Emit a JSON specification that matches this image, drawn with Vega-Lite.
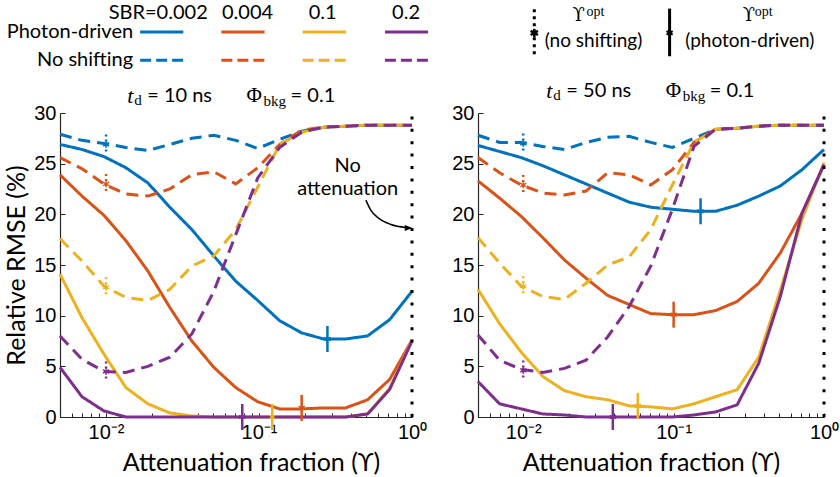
{
"$schema":"https://vega.github.io/schema/vega-lite/v6.json",
"padding":{"left":4,"top":2,"right":0,"bottom":0},
"config":{"font":"Lato","view":{"stroke":null},
"axis":{"grid":false,"domainColor":"#262626","tickColor":"#262626","labelColor":"#000","titleColor":"#000","labelFont":"Liberation Sans","labelFontSize":20,"titleFont":"Lato","titleFontSize":25,"titleFontWeight":"normal","tickSize":-5,"labelPadding":9,"labelFlush":false,"labelOverlap":false,"domainWidth":1.2}},
"datasets":{
"curves":[
{"panel":"L","sbr":"0.002","style":"Photon-driven","x":0.005,"y":26.9},{"panel":"L","sbr":"0.002","style":"Photon-driven","x":0.00696,"y":26.4},{"panel":"L","sbr":"0.002","style":"Photon-driven","x":0.00969,"y":25.7},{"panel":"L","sbr":"0.002","style":"Photon-driven","x":0.01348,"y":24.6},{"panel":"L","sbr":"0.002","style":"Photon-driven","x":0.01877,"y":23.1},{"panel":"L","sbr":"0.002","style":"Photon-driven","x":0.02613,"y":20.7},{"panel":"L","sbr":"0.002","style":"Photon-driven","x":0.03637,"y":18.5},{"panel":"L","sbr":"0.002","style":"Photon-driven","x":0.05063,"y":15.9},{"panel":"L","sbr":"0.002","style":"Photon-driven","x":0.07047,"y":13.4},{"panel":"L","sbr":"0.002","style":"Photon-driven","x":0.09809,"y":11.5},{"panel":"L","sbr":"0.002","style":"Photon-driven","x":0.13653,"y":9.5},{"panel":"L","sbr":"0.002","style":"Photon-driven","x":0.19004,"y":8.3},{"panel":"L","sbr":"0.002","style":"Photon-driven","x":0.26453,"y":7.7},{"panel":"L","sbr":"0.002","style":"Photon-driven","x":0.36821,"y":7.7},{"panel":"L","sbr":"0.002","style":"Photon-driven","x":0.51253,"y":8.0},{"panel":"L","sbr":"0.002","style":"Photon-driven","x":0.71342,"y":9.6},{"panel":"L","sbr":"0.002","style":"Photon-driven","x":1,"y":12.4},
{"panel":"L","sbr":"0.002","style":"No shifting","x":0.005,"y":27.9},{"panel":"L","sbr":"0.002","style":"No shifting","x":0.00696,"y":27.3},{"panel":"L","sbr":"0.002","style":"No shifting","x":0.00969,"y":27.0},{"panel":"L","sbr":"0.002","style":"No shifting","x":0.01348,"y":26.6},{"panel":"L","sbr":"0.002","style":"No shifting","x":0.01877,"y":26.3},{"panel":"L","sbr":"0.002","style":"No shifting","x":0.02613,"y":26.9},{"panel":"L","sbr":"0.002","style":"No shifting","x":0.03637,"y":27.5},{"panel":"L","sbr":"0.002","style":"No shifting","x":0.05063,"y":27.8},{"panel":"L","sbr":"0.002","style":"No shifting","x":0.07047,"y":27.3},{"panel":"L","sbr":"0.002","style":"No shifting","x":0.09809,"y":26.5},{"panel":"L","sbr":"0.002","style":"No shifting","x":0.13653,"y":27.4},{"panel":"L","sbr":"0.002","style":"No shifting","x":0.19004,"y":28.2},{"panel":"L","sbr":"0.002","style":"No shifting","x":0.26453,"y":28.6},{"panel":"L","sbr":"0.002","style":"No shifting","x":0.36821,"y":28.7},{"panel":"L","sbr":"0.002","style":"No shifting","x":0.51253,"y":28.8},{"panel":"L","sbr":"0.002","style":"No shifting","x":0.71342,"y":28.8},{"panel":"L","sbr":"0.002","style":"No shifting","x":1,"y":28.8},
{"panel":"L","sbr":"0.004","style":"Photon-driven","x":0.005,"y":23.9},{"panel":"L","sbr":"0.004","style":"Photon-driven","x":0.00696,"y":21.8},{"panel":"L","sbr":"0.004","style":"Photon-driven","x":0.00969,"y":19.9},{"panel":"L","sbr":"0.004","style":"Photon-driven","x":0.01348,"y":17.4},{"panel":"L","sbr":"0.004","style":"Photon-driven","x":0.01877,"y":14.4},{"panel":"L","sbr":"0.004","style":"Photon-driven","x":0.02613,"y":10.8},{"panel":"L","sbr":"0.004","style":"Photon-driven","x":0.03637,"y":7.5},{"panel":"L","sbr":"0.004","style":"Photon-driven","x":0.05063,"y":4.9},{"panel":"L","sbr":"0.004","style":"Photon-driven","x":0.07047,"y":2.9},{"panel":"L","sbr":"0.004","style":"Photon-driven","x":0.09809,"y":1.5},{"panel":"L","sbr":"0.004","style":"Photon-driven","x":0.13653,"y":0.8},{"panel":"L","sbr":"0.004","style":"Photon-driven","x":0.19004,"y":0.8},{"panel":"L","sbr":"0.004","style":"Photon-driven","x":0.26453,"y":0.9},{"panel":"L","sbr":"0.004","style":"Photon-driven","x":0.36821,"y":0.9},{"panel":"L","sbr":"0.004","style":"Photon-driven","x":0.51253,"y":1.7},{"panel":"L","sbr":"0.004","style":"Photon-driven","x":0.71342,"y":3.7},{"panel":"L","sbr":"0.004","style":"Photon-driven","x":1,"y":7.6},
{"panel":"L","sbr":"0.004","style":"No shifting","x":0.005,"y":25.6},{"panel":"L","sbr":"0.004","style":"No shifting","x":0.00696,"y":24.5},{"panel":"L","sbr":"0.004","style":"No shifting","x":0.00969,"y":23.0},{"panel":"L","sbr":"0.004","style":"No shifting","x":0.01348,"y":22.0},{"panel":"L","sbr":"0.004","style":"No shifting","x":0.01877,"y":21.8},{"panel":"L","sbr":"0.004","style":"No shifting","x":0.02613,"y":22.5},{"panel":"L","sbr":"0.004","style":"No shifting","x":0.03637,"y":23.9},{"panel":"L","sbr":"0.004","style":"No shifting","x":0.05063,"y":24.2},{"panel":"L","sbr":"0.004","style":"No shifting","x":0.07047,"y":23.0},{"panel":"L","sbr":"0.004","style":"No shifting","x":0.09809,"y":24.6},{"panel":"L","sbr":"0.004","style":"No shifting","x":0.13653,"y":26.9},{"panel":"L","sbr":"0.004","style":"No shifting","x":0.19004,"y":28.3},{"panel":"L","sbr":"0.004","style":"No shifting","x":0.26453,"y":28.6},{"panel":"L","sbr":"0.004","style":"No shifting","x":0.36821,"y":28.7},{"panel":"L","sbr":"0.004","style":"No shifting","x":0.51253,"y":28.8},{"panel":"L","sbr":"0.004","style":"No shifting","x":0.71342,"y":28.8},{"panel":"L","sbr":"0.004","style":"No shifting","x":1,"y":28.8},
{"panel":"L","sbr":"0.1","style":"Photon-driven","x":0.005,"y":14.1},{"panel":"L","sbr":"0.1","style":"Photon-driven","x":0.00696,"y":9.8},{"panel":"L","sbr":"0.1","style":"Photon-driven","x":0.00969,"y":6.2},{"panel":"L","sbr":"0.1","style":"Photon-driven","x":0.01348,"y":2.9},{"panel":"L","sbr":"0.1","style":"Photon-driven","x":0.01877,"y":1.3},{"panel":"L","sbr":"0.1","style":"Photon-driven","x":0.02613,"y":0.4},{"panel":"L","sbr":"0.1","style":"Photon-driven","x":0.03637,"y":0.1},{"panel":"L","sbr":"0.1","style":"Photon-driven","x":0.05063,"y":0},{"panel":"L","sbr":"0.1","style":"Photon-driven","x":0.07047,"y":0},{"panel":"L","sbr":"0.1","style":"Photon-driven","x":0.09809,"y":0},{"panel":"L","sbr":"0.1","style":"Photon-driven","x":0.13653,"y":0},{"panel":"L","sbr":"0.1","style":"Photon-driven","x":0.19004,"y":0},{"panel":"L","sbr":"0.1","style":"Photon-driven","x":0.26453,"y":0},{"panel":"L","sbr":"0.1","style":"Photon-driven","x":0.36821,"y":0},{"panel":"L","sbr":"0.1","style":"Photon-driven","x":0.51253,"y":0.3},{"panel":"L","sbr":"0.1","style":"Photon-driven","x":0.71342,"y":2.8},{"panel":"L","sbr":"0.1","style":"Photon-driven","x":1,"y":7.6},
{"panel":"L","sbr":"0.1","style":"No shifting","x":0.005,"y":17.6},{"panel":"L","sbr":"0.1","style":"No shifting","x":0.00696,"y":15.4},{"panel":"L","sbr":"0.1","style":"No shifting","x":0.00969,"y":12.9},{"panel":"L","sbr":"0.1","style":"No shifting","x":0.01348,"y":11.8},{"panel":"L","sbr":"0.1","style":"No shifting","x":0.01877,"y":11.5},{"panel":"L","sbr":"0.1","style":"No shifting","x":0.02613,"y":12.6},{"panel":"L","sbr":"0.1","style":"No shifting","x":0.03637,"y":14.9},{"panel":"L","sbr":"0.1","style":"No shifting","x":0.05063,"y":15.9},{"panel":"L","sbr":"0.1","style":"No shifting","x":0.07047,"y":18.5},{"panel":"L","sbr":"0.1","style":"No shifting","x":0.09809,"y":22.7},{"panel":"L","sbr":"0.1","style":"No shifting","x":0.13653,"y":26.9},{"panel":"L","sbr":"0.1","style":"No shifting","x":0.19004,"y":28.1},{"panel":"L","sbr":"0.1","style":"No shifting","x":0.26453,"y":28.6},{"panel":"L","sbr":"0.1","style":"No shifting","x":0.36821,"y":28.7},{"panel":"L","sbr":"0.1","style":"No shifting","x":0.51253,"y":28.8},{"panel":"L","sbr":"0.1","style":"No shifting","x":0.71342,"y":28.8},{"panel":"L","sbr":"0.1","style":"No shifting","x":1,"y":28.8},
{"panel":"L","sbr":"0.2","style":"Photon-driven","x":0.005,"y":4.9},{"panel":"L","sbr":"0.2","style":"Photon-driven","x":0.00696,"y":2.0},{"panel":"L","sbr":"0.2","style":"Photon-driven","x":0.00969,"y":0.6},{"panel":"L","sbr":"0.2","style":"Photon-driven","x":0.01348,"y":0},{"panel":"L","sbr":"0.2","style":"Photon-driven","x":0.01877,"y":0},{"panel":"L","sbr":"0.2","style":"Photon-driven","x":0.02613,"y":0},{"panel":"L","sbr":"0.2","style":"Photon-driven","x":0.03637,"y":0},{"panel":"L","sbr":"0.2","style":"Photon-driven","x":0.05063,"y":0},{"panel":"L","sbr":"0.2","style":"Photon-driven","x":0.07047,"y":0},{"panel":"L","sbr":"0.2","style":"Photon-driven","x":0.09809,"y":0},{"panel":"L","sbr":"0.2","style":"Photon-driven","x":0.13653,"y":0},{"panel":"L","sbr":"0.2","style":"Photon-driven","x":0.19004,"y":0},{"panel":"L","sbr":"0.2","style":"Photon-driven","x":0.26453,"y":0},{"panel":"L","sbr":"0.2","style":"Photon-driven","x":0.36821,"y":0},{"panel":"L","sbr":"0.2","style":"Photon-driven","x":0.51253,"y":0.3},{"panel":"L","sbr":"0.2","style":"Photon-driven","x":0.71342,"y":2.7},{"panel":"L","sbr":"0.2","style":"Photon-driven","x":1,"y":7.5},
{"panel":"L","sbr":"0.2","style":"No shifting","x":0.005,"y":8.0},{"panel":"L","sbr":"0.2","style":"No shifting","x":0.00696,"y":5.7},{"panel":"L","sbr":"0.2","style":"No shifting","x":0.00969,"y":4.5},{"panel":"L","sbr":"0.2","style":"No shifting","x":0.01348,"y":4.4},{"panel":"L","sbr":"0.2","style":"No shifting","x":0.01877,"y":5.0},{"panel":"L","sbr":"0.2","style":"No shifting","x":0.02613,"y":5.9},{"panel":"L","sbr":"0.2","style":"No shifting","x":0.03637,"y":8.2},{"panel":"L","sbr":"0.2","style":"No shifting","x":0.05063,"y":12.4},{"panel":"L","sbr":"0.2","style":"No shifting","x":0.07047,"y":18.0},{"panel":"L","sbr":"0.2","style":"No shifting","x":0.09809,"y":23.6},{"panel":"L","sbr":"0.2","style":"No shifting","x":0.13653,"y":26.6},{"panel":"L","sbr":"0.2","style":"No shifting","x":0.19004,"y":28.1},{"panel":"L","sbr":"0.2","style":"No shifting","x":0.26453,"y":28.6},{"panel":"L","sbr":"0.2","style":"No shifting","x":0.36821,"y":28.7},{"panel":"L","sbr":"0.2","style":"No shifting","x":0.51253,"y":28.8},{"panel":"L","sbr":"0.2","style":"No shifting","x":0.71342,"y":28.8},{"panel":"L","sbr":"0.2","style":"No shifting","x":1,"y":28.8},
{"panel":"R","sbr":"0.002","style":"Photon-driven","x":0.005,"y":26.8},{"panel":"R","sbr":"0.002","style":"Photon-driven","x":0.00696,"y":26.2},{"panel":"R","sbr":"0.002","style":"Photon-driven","x":0.00969,"y":25.6},{"panel":"R","sbr":"0.002","style":"Photon-driven","x":0.01348,"y":24.8},{"panel":"R","sbr":"0.002","style":"Photon-driven","x":0.01877,"y":23.9},{"panel":"R","sbr":"0.002","style":"Photon-driven","x":0.02613,"y":23.0},{"panel":"R","sbr":"0.002","style":"Photon-driven","x":0.03637,"y":22.1},{"panel":"R","sbr":"0.002","style":"Photon-driven","x":0.05063,"y":21.2},{"panel":"R","sbr":"0.002","style":"Photon-driven","x":0.07047,"y":20.7},{"panel":"R","sbr":"0.002","style":"Photon-driven","x":0.09809,"y":20.5},{"panel":"R","sbr":"0.002","style":"Photon-driven","x":0.13653,"y":20.3},{"panel":"R","sbr":"0.002","style":"Photon-driven","x":0.19004,"y":20.3},{"panel":"R","sbr":"0.002","style":"Photon-driven","x":0.26453,"y":20.9},{"panel":"R","sbr":"0.002","style":"Photon-driven","x":0.36821,"y":21.8},{"panel":"R","sbr":"0.002","style":"Photon-driven","x":0.51253,"y":22.8},{"panel":"R","sbr":"0.002","style":"Photon-driven","x":0.71342,"y":24.4},{"panel":"R","sbr":"0.002","style":"Photon-driven","x":1,"y":26.4},
{"panel":"R","sbr":"0.002","style":"No shifting","x":0.005,"y":27.8},{"panel":"R","sbr":"0.002","style":"No shifting","x":0.00696,"y":27.1},{"panel":"R","sbr":"0.002","style":"No shifting","x":0.00969,"y":27.1},{"panel":"R","sbr":"0.002","style":"No shifting","x":0.01348,"y":26.7},{"panel":"R","sbr":"0.002","style":"No shifting","x":0.01877,"y":26.4},{"panel":"R","sbr":"0.002","style":"No shifting","x":0.02613,"y":27.1},{"panel":"R","sbr":"0.002","style":"No shifting","x":0.03637,"y":27.6},{"panel":"R","sbr":"0.002","style":"No shifting","x":0.05063,"y":27.7},{"panel":"R","sbr":"0.002","style":"No shifting","x":0.07047,"y":27.1},{"panel":"R","sbr":"0.002","style":"No shifting","x":0.09809,"y":26.6},{"panel":"R","sbr":"0.002","style":"No shifting","x":0.13653,"y":27.5},{"panel":"R","sbr":"0.002","style":"No shifting","x":0.19004,"y":28.4},{"panel":"R","sbr":"0.002","style":"No shifting","x":0.26453,"y":28.5},{"panel":"R","sbr":"0.002","style":"No shifting","x":0.36821,"y":28.7},{"panel":"R","sbr":"0.002","style":"No shifting","x":0.51253,"y":28.8},{"panel":"R","sbr":"0.002","style":"No shifting","x":0.71342,"y":28.8},{"panel":"R","sbr":"0.002","style":"No shifting","x":1,"y":28.8},
{"panel":"R","sbr":"0.004","style":"Photon-driven","x":0.005,"y":23.3},{"panel":"R","sbr":"0.004","style":"Photon-driven","x":0.00696,"y":21.6},{"panel":"R","sbr":"0.004","style":"Photon-driven","x":0.00969,"y":19.8},{"panel":"R","sbr":"0.004","style":"Photon-driven","x":0.01348,"y":17.7},{"panel":"R","sbr":"0.004","style":"Photon-driven","x":0.01877,"y":15.5},{"panel":"R","sbr":"0.004","style":"Photon-driven","x":0.02613,"y":13.7},{"panel":"R","sbr":"0.004","style":"Photon-driven","x":0.03637,"y":12.0},{"panel":"R","sbr":"0.004","style":"Photon-driven","x":0.05063,"y":11.1},{"panel":"R","sbr":"0.004","style":"Photon-driven","x":0.07047,"y":10.2},{"panel":"R","sbr":"0.004","style":"Photon-driven","x":0.09809,"y":10.1},{"panel":"R","sbr":"0.004","style":"Photon-driven","x":0.13653,"y":10.1},{"panel":"R","sbr":"0.004","style":"Photon-driven","x":0.19004,"y":10.5},{"panel":"R","sbr":"0.004","style":"Photon-driven","x":0.26453,"y":11.4},{"panel":"R","sbr":"0.004","style":"Photon-driven","x":0.36821,"y":13.2},{"panel":"R","sbr":"0.004","style":"Photon-driven","x":0.51253,"y":16.2},{"panel":"R","sbr":"0.004","style":"Photon-driven","x":0.71342,"y":20.1},{"panel":"R","sbr":"0.004","style":"Photon-driven","x":1,"y":24.9},
{"panel":"R","sbr":"0.004","style":"No shifting","x":0.005,"y":25.6},{"panel":"R","sbr":"0.004","style":"No shifting","x":0.00696,"y":24.1},{"panel":"R","sbr":"0.004","style":"No shifting","x":0.00969,"y":22.9},{"panel":"R","sbr":"0.004","style":"No shifting","x":0.01348,"y":22.1},{"panel":"R","sbr":"0.004","style":"No shifting","x":0.01877,"y":21.9},{"panel":"R","sbr":"0.004","style":"No shifting","x":0.02613,"y":22.3},{"panel":"R","sbr":"0.004","style":"No shifting","x":0.03637,"y":24.1},{"panel":"R","sbr":"0.004","style":"No shifting","x":0.05063,"y":23.9},{"panel":"R","sbr":"0.004","style":"No shifting","x":0.07047,"y":22.9},{"panel":"R","sbr":"0.004","style":"No shifting","x":0.09809,"y":24.4},{"panel":"R","sbr":"0.004","style":"No shifting","x":0.13653,"y":27.1},{"panel":"R","sbr":"0.004","style":"No shifting","x":0.19004,"y":28.4},{"panel":"R","sbr":"0.004","style":"No shifting","x":0.26453,"y":28.5},{"panel":"R","sbr":"0.004","style":"No shifting","x":0.36821,"y":28.7},{"panel":"R","sbr":"0.004","style":"No shifting","x":0.51253,"y":28.8},{"panel":"R","sbr":"0.004","style":"No shifting","x":0.71342,"y":28.8},{"panel":"R","sbr":"0.004","style":"No shifting","x":1,"y":28.8},
{"panel":"R","sbr":"0.1","style":"Photon-driven","x":0.005,"y":12.6},{"panel":"R","sbr":"0.1","style":"Photon-driven","x":0.00696,"y":9.2},{"panel":"R","sbr":"0.1","style":"Photon-driven","x":0.00969,"y":6.4},{"panel":"R","sbr":"0.1","style":"Photon-driven","x":0.01348,"y":4.0},{"panel":"R","sbr":"0.1","style":"Photon-driven","x":0.01877,"y":2.6},{"panel":"R","sbr":"0.1","style":"Photon-driven","x":0.02613,"y":2.0},{"panel":"R","sbr":"0.1","style":"Photon-driven","x":0.03637,"y":1.7},{"panel":"R","sbr":"0.1","style":"Photon-driven","x":0.05063,"y":1.1},{"panel":"R","sbr":"0.1","style":"Photon-driven","x":0.07047,"y":1.0},{"panel":"R","sbr":"0.1","style":"Photon-driven","x":0.09809,"y":0.8},{"panel":"R","sbr":"0.1","style":"Photon-driven","x":0.13653,"y":1.3},{"panel":"R","sbr":"0.1","style":"Photon-driven","x":0.19004,"y":2.0},{"panel":"R","sbr":"0.1","style":"Photon-driven","x":0.26453,"y":2.7},{"panel":"R","sbr":"0.1","style":"Photon-driven","x":0.36821,"y":5.9},{"panel":"R","sbr":"0.1","style":"Photon-driven","x":0.51253,"y":12.5},{"panel":"R","sbr":"0.1","style":"Photon-driven","x":0.71342,"y":19.5},{"panel":"R","sbr":"0.1","style":"Photon-driven","x":1,"y":25.1},
{"panel":"R","sbr":"0.1","style":"No shifting","x":0.005,"y":17.7},{"panel":"R","sbr":"0.1","style":"No shifting","x":0.00696,"y":15.2},{"panel":"R","sbr":"0.1","style":"No shifting","x":0.00969,"y":12.9},{"panel":"R","sbr":"0.1","style":"No shifting","x":0.01348,"y":11.9},{"panel":"R","sbr":"0.1","style":"No shifting","x":0.01877,"y":11.6},{"panel":"R","sbr":"0.1","style":"No shifting","x":0.02613,"y":13.2},{"panel":"R","sbr":"0.1","style":"No shifting","x":0.03637,"y":15.0},{"panel":"R","sbr":"0.1","style":"No shifting","x":0.05063,"y":15.8},{"panel":"R","sbr":"0.1","style":"No shifting","x":0.07047,"y":18.5},{"panel":"R","sbr":"0.1","style":"No shifting","x":0.09809,"y":22.9},{"panel":"R","sbr":"0.1","style":"No shifting","x":0.13653,"y":27.1},{"panel":"R","sbr":"0.1","style":"No shifting","x":0.19004,"y":28.4},{"panel":"R","sbr":"0.1","style":"No shifting","x":0.26453,"y":28.5},{"panel":"R","sbr":"0.1","style":"No shifting","x":0.36821,"y":28.7},{"panel":"R","sbr":"0.1","style":"No shifting","x":0.51253,"y":28.8},{"panel":"R","sbr":"0.1","style":"No shifting","x":0.71342,"y":28.8},{"panel":"R","sbr":"0.1","style":"No shifting","x":1,"y":28.8},
{"panel":"R","sbr":"0.2","style":"Photon-driven","x":0.005,"y":3.5},{"panel":"R","sbr":"0.2","style":"Photon-driven","x":0.00696,"y":1.3},{"panel":"R","sbr":"0.2","style":"Photon-driven","x":0.00969,"y":0.8},{"panel":"R","sbr":"0.2","style":"Photon-driven","x":0.01348,"y":0.3},{"panel":"R","sbr":"0.2","style":"Photon-driven","x":0.01877,"y":0.2},{"panel":"R","sbr":"0.2","style":"Photon-driven","x":0.02613,"y":0},{"panel":"R","sbr":"0.2","style":"Photon-driven","x":0.03637,"y":0},{"panel":"R","sbr":"0.2","style":"Photon-driven","x":0.05063,"y":0},{"panel":"R","sbr":"0.2","style":"Photon-driven","x":0.07047,"y":0},{"panel":"R","sbr":"0.2","style":"Photon-driven","x":0.09809,"y":0},{"panel":"R","sbr":"0.2","style":"Photon-driven","x":0.13653,"y":0.2},{"panel":"R","sbr":"0.2","style":"Photon-driven","x":0.19004,"y":0.5},{"panel":"R","sbr":"0.2","style":"Photon-driven","x":0.26453,"y":1.2},{"panel":"R","sbr":"0.2","style":"Photon-driven","x":0.36821,"y":5.3},{"panel":"R","sbr":"0.2","style":"Photon-driven","x":0.51253,"y":11.9},{"panel":"R","sbr":"0.2","style":"Photon-driven","x":0.71342,"y":20.1},{"panel":"R","sbr":"0.2","style":"Photon-driven","x":1,"y":24.9},
{"panel":"R","sbr":"0.2","style":"No shifting","x":0.005,"y":8.1},{"panel":"R","sbr":"0.2","style":"No shifting","x":0.00696,"y":5.6},{"panel":"R","sbr":"0.2","style":"No shifting","x":0.00969,"y":4.7},{"panel":"R","sbr":"0.2","style":"No shifting","x":0.01348,"y":4.4},{"panel":"R","sbr":"0.2","style":"No shifting","x":0.01877,"y":4.8},{"panel":"R","sbr":"0.2","style":"No shifting","x":0.02613,"y":5.6},{"panel":"R","sbr":"0.2","style":"No shifting","x":0.03637,"y":7.9},{"panel":"R","sbr":"0.2","style":"No shifting","x":0.05063,"y":10.9},{"panel":"R","sbr":"0.2","style":"No shifting","x":0.07047,"y":14.9},{"panel":"R","sbr":"0.2","style":"No shifting","x":0.09809,"y":20.5},{"panel":"R","sbr":"0.2","style":"No shifting","x":0.13653,"y":26.7},{"panel":"R","sbr":"0.2","style":"No shifting","x":0.19004,"y":28.4},{"panel":"R","sbr":"0.2","style":"No shifting","x":0.26453,"y":28.5},{"panel":"R","sbr":"0.2","style":"No shifting","x":0.36821,"y":28.7},{"panel":"R","sbr":"0.2","style":"No shifting","x":0.51253,"y":28.8},{"panel":"R","sbr":"0.2","style":"No shifting","x":0.71342,"y":28.8},{"panel":"R","sbr":"0.2","style":"No shifting","x":1,"y":28.8}
],
"markers":[
{"panel":"L","sbr":"0.002","style":"Photon-driven","x":0.28,"y":7.7},{"panel":"L","sbr":"0.004","style":"Photon-driven","x":0.19,"y":0.9},{"panel":"L","sbr":"0.1","style":"Photon-driven","x":0.122,"y":0},{"panel":"L","sbr":"0.2","style":"Photon-driven","x":0.0777,"y":0},
{"panel":"L","sbr":"0.002","style":"No shifting","x":0.01,"y":26.9},{"panel":"L","sbr":"0.004","style":"No shifting","x":0.01,"y":23.0},{"panel":"L","sbr":"0.1","style":"No shifting","x":0.01,"y":12.8},{"panel":"L","sbr":"0.2","style":"No shifting","x":0.01,"y":4.5},
{"panel":"R","sbr":"0.002","style":"Photon-driven","x":0.151,"y":20.3},{"panel":"R","sbr":"0.004","style":"Photon-driven","x":0.1,"y":10.1},{"panel":"R","sbr":"0.1","style":"Photon-driven","x":0.0578,"y":1.1},{"panel":"R","sbr":"0.2","style":"Photon-driven","x":0.0394,"y":0},
{"panel":"R","sbr":"0.002","style":"No shifting","x":0.01,"y":27.0},{"panel":"R","sbr":"0.004","style":"No shifting","x":0.01,"y":22.9},{"panel":"R","sbr":"0.1","style":"No shifting","x":0.01,"y":12.9},{"panel":"R","sbr":"0.2","style":"No shifting","x":0.01,"y":4.6}
]},
"spacing":66,
"bounds":"flush",
"hconcat":[
{"width":352,"height":304,
"layer":[
{"data":{"name":"curves"},"transform":[{"filter":"datum.panel == 'L'"}],
"mark":{"type":"line","strokeWidth":3},
"encoding":{
"x":{"field":"x","type":"quantitative","scale":{"type":"log","domain":[0.005,1],"nice":false},"axis":{"title":"Attenuation fraction (ϒ)","titleX":191,"titlePadding":8,"values":[0.005,0.006,0.007,0.008,0.009,0.01,0.02,0.03,0.04,0.05,0.06,0.07,0.08,0.09,0.1,0.2,0.3,0.4,0.5,0.6,0.7,0.8,0.9,1],"labelExpr":"datum.value == 0.01 ? '10⁻²' : datum.value == 0.1 ? '10⁻¹' : datum.value == 1 ? '10⁰' : ''","tickSize":-4}},
"y":{"field":"y","type":"quantitative","scale":{"domain":[0,30],"nice":false},"axis":{"title":"Relative RMSE (%)","values":[0,5,10,15,20,25,30],"titlePadding":4}},
"color":{"field":"sbr","type":"nominal","scale":{"domain":["0.002","0.004","0.1","0.2"],"range":["#0072BD","#D95319","#EDB120","#7E2F8E"]},"legend":null},
"strokeDash":{"field":"style","type":"nominal","scale":{"domain":["Photon-driven","No shifting"],"range":[[1,0],[12,7]]},"legend":null}}},
{"data":{"name":"markers"},"transform":[{"filter":"datum.panel == 'L' && datum.style == 'Photon-driven'"}],
"mark":{"type":"rule","strokeWidth":2.5,"yOffset":-13,"y2Offset":13},
"encoding":{"x":{"field":"x","type":"quantitative"},"y":{"field":"y","type":"quantitative"},"y2":{"field":"y"},"color":{"field":"sbr","type":"nominal","legend":null}}},
{"data":{"name":"markers"},"transform":[{"filter":"datum.panel == 'L' && datum.style == 'No shifting'"}],
"mark":{"type":"rule","strokeWidth":2.5,"strokeDash":[2,3],"yOffset":-10,"y2Offset":10},
"encoding":{"x":{"field":"x","type":"quantitative"},"y":{"field":"y","type":"quantitative"},"y2":{"field":"y"},"color":{"field":"sbr","type":"nominal","legend":null}}},
{"data":{"name":"markers"},"transform":[{"filter":"datum.panel == 'L'"}],
"mark":{"type":"point","shape":"M0,-1L0,1M-0.87,-0.5L0.87,0.5M-0.87,0.5L0.87,-0.5","filled":false,"size":50,"strokeWidth":1.3,"opacity":1},
"encoding":{"x":{"field":"x","type":"quantitative"},"y":{"field":"y","type":"quantitative"},"color":{"field":"sbr","type":"nominal","legend":null}}},
{"data":{"values":[{}]},"mark":{"type":"rule","color":"#000","strokeWidth":3,"strokeDash":[3,9.4]},"encoding":{"x":{"datum":1},"y":{"datum":0},"y2":{"datum":30}}},
{"data":{"values":[{}]},"mark":{"type":"text","text":"No","fontSize":20,"align":"center","baseline":"middle"},"encoding":{"x":{"datum":0.38},"y":{"datum":24.8}}},
{"data":{"values":[{}]},"mark":{"type":"text","text":"attenuation","fontSize":20,"align":"center","baseline":"middle"},"encoding":{"x":{"datum":0.38},"y":{"datum":22.5}}},
{"data":{"values":[{"x":0.4994,"y":21.4},{"x":0.5385,"y":20.4},{"x":0.6075,"y":19.6},{"x":0.7282,"y":19.0},{"x":0.9135,"y":18.7}]},"mark":{"type":"line","color":"#000","strokeWidth":1.5,"interpolate":"monotone"},"encoding":{"x":{"field":"x","type":"quantitative"},"y":{"field":"y","type":"quantitative"}}},
{"data":{"values":[{}]},"mark":{"type":"point","shape":"M-1,-0.8L1,0L-1,0.8Z","filled":true,"color":"#000","size":60,"opacity":1},"encoding":{"x":{"datum":0.95},"y":{"datum":18.65}}},
{"data":{"values":[{}]},"mark":{"type":"text","text":"t","font":"Liberation Serif","fontStyle":"italic","fontSize":22,"align":"left","baseline":"middle"},"encoding":{"x":{"datum":0.01374},"y":{"datum":31.7}}},
{"data":{"values":[{}]},"mark":{"type":"text","text":"d","font":"Liberation Serif","fontSize":15,"align":"left","baseline":"middle"},"encoding":{"x":{"datum":0.01526},"y":{"datum":31.3}}},
{"data":{"values":[{}]},"mark":{"type":"text","text":"= 10 ns","fontSize":20,"align":"left","baseline":"middle"},"encoding":{"x":{"datum":0.01857},"y":{"datum":31.7}}},
{"data":{"values":[{}]},"mark":{"type":"text","text":"Φ","font":"Liberation Serif","fontSize":21,"align":"left","baseline":"middle"},"encoding":{"x":{"datum":0.0828},"y":{"datum":31.7}}},
{"data":{"values":[{}]},"mark":{"type":"text","text":"bkg","font":"Liberation Serif","fontSize":15,"align":"left","baseline":"middle"},"encoding":{"x":{"datum":0.107},"y":{"datum":31.2}}},
{"data":{"values":[{}]},"mark":{"type":"text","text":"= 0.1","fontSize":20,"align":"left","baseline":"middle"},"encoding":{"x":{"datum":0.1609},"y":{"datum":31.7}}},
{"data":{"values":[{}]},"mark":{"type":"text","text":"Photon-driven","fontSize":20,"align":"right","baseline":"middle"},"encoding":{"x":{"datum":0.01503},"y":{"datum":38.0}}},
{"data":{"values":[{}]},"mark":{"type":"text","text":"No shifting","fontSize":20,"align":"right","baseline":"middle"},"encoding":{"x":{"datum":0.01503},"y":{"datum":35.2}}},
{"data":{"values":[{}]},"mark":{"type":"text","text":"SBR=0.002","fontSize":20,"align":"center","baseline":"middle"},"encoding":{"x":{"datum":0.02193},"y":{"datum":39.9}}},
{"data":{"values":[{}]},"mark":{"type":"text","text":"0.004","fontSize":20,"align":"center","baseline":"middle"},"encoding":{"x":{"datum":0.0841},"y":{"datum":39.9}}},
{"data":{"values":[{}]},"mark":{"type":"text","text":"0.1","fontSize":20,"align":"center","baseline":"middle"},"encoding":{"x":{"datum":0.2606},"y":{"datum":39.9}}},
{"data":{"values":[{}]},"mark":{"type":"text","text":"0.2","fontSize":20,"align":"center","baseline":"middle"},"encoding":{"x":{"datum":0.914},"y":{"datum":39.9}}},
{"data":{"values":[{}]},"mark":{"type":"rule","color":"#0072BD","strokeWidth":3},"encoding":{"x":{"datum":0.0167},"x2":{"datum":0.032},"y":{"datum":38.0}}},
{"data":{"values":[{}]},"mark":{"type":"rule","color":"#D95319","strokeWidth":3},"encoding":{"x":{"datum":0.0567},"x2":{"datum":0.1087},"y":{"datum":38.0}}},
{"data":{"values":[{}]},"mark":{"type":"rule","color":"#EDB120","strokeWidth":3},"encoding":{"x":{"datum":0.1928},"x2":{"datum":0.3698},"y":{"datum":38.0}}},
{"data":{"values":[{}]},"mark":{"type":"rule","color":"#7E2F8E","strokeWidth":3},"encoding":{"x":{"datum":0.6653},"x2":{"datum":1.273},"y":{"datum":38.0}}},
{"data":{"values":[{}]},"mark":{"type":"rule","color":"#0072BD","strokeWidth":3,"strokeDash":[11,5]},"encoding":{"x":{"datum":0.0167},"x2":{"datum":0.032},"y":{"datum":35.2}}},
{"data":{"values":[{}]},"mark":{"type":"rule","color":"#D95319","strokeWidth":3,"strokeDash":[11,5]},"encoding":{"x":{"datum":0.0567},"x2":{"datum":0.1087},"y":{"datum":35.2}}},
{"data":{"values":[{}]},"mark":{"type":"rule","color":"#EDB120","strokeWidth":3,"strokeDash":[11,5]},"encoding":{"x":{"datum":0.1928},"x2":{"datum":0.3698},"y":{"datum":35.2}}},
{"data":{"values":[{}]},"mark":{"type":"rule","color":"#7E2F8E","strokeWidth":3,"strokeDash":[11,5]},"encoding":{"x":{"datum":0.6653},"x2":{"datum":1.273},"y":{"datum":35.2}}}
]},
{"width":346,"height":304,
"layer":[
{"data":{"name":"curves"},"transform":[{"filter":"datum.panel == 'R'"}],
"mark":{"type":"line","strokeWidth":3},
"encoding":{
"x":{"field":"x","type":"quantitative","scale":{"type":"log","domain":[0.005,1],"nice":false},"axis":{"title":"Attenuation fraction (ϒ)","titlePadding":8,"values":[0.005,0.006,0.007,0.008,0.009,0.01,0.02,0.03,0.04,0.05,0.06,0.07,0.08,0.09,0.1,0.2,0.3,0.4,0.5,0.6,0.7,0.8,0.9,1],"labelExpr":"datum.value == 0.01 ? '10⁻²' : datum.value == 0.1 ? '10⁻¹' : datum.value == 1 ? '10⁰' : ''","tickSize":-4}},
"y":{"field":"y","type":"quantitative","scale":{"domain":[0,30],"nice":false},"axis":{"title":null,"values":[0,5,10,15,20,25,30]}},
"color":{"field":"sbr","type":"nominal","scale":{"domain":["0.002","0.004","0.1","0.2"],"range":["#0072BD","#D95319","#EDB120","#7E2F8E"]},"legend":null},
"strokeDash":{"field":"style","type":"nominal","scale":{"domain":["Photon-driven","No shifting"],"range":[[1,0],[12,7]]},"legend":null}}},
{"data":{"name":"markers"},"transform":[{"filter":"datum.panel == 'R' && datum.style == 'Photon-driven'"}],
"mark":{"type":"rule","strokeWidth":2.5,"yOffset":-13,"y2Offset":13},
"encoding":{"x":{"field":"x","type":"quantitative"},"y":{"field":"y","type":"quantitative"},"y2":{"field":"y"},"color":{"field":"sbr","type":"nominal","legend":null}}},
{"data":{"name":"markers"},"transform":[{"filter":"datum.panel == 'R' && datum.style == 'No shifting'"}],
"mark":{"type":"rule","strokeWidth":2.5,"strokeDash":[2,3],"yOffset":-10,"y2Offset":10},
"encoding":{"x":{"field":"x","type":"quantitative"},"y":{"field":"y","type":"quantitative"},"y2":{"field":"y"},"color":{"field":"sbr","type":"nominal","legend":null}}},
{"data":{"name":"markers"},"transform":[{"filter":"datum.panel == 'R'"}],
"mark":{"type":"point","shape":"M0,-1L0,1M-0.87,-0.5L0.87,0.5M-0.87,0.5L0.87,-0.5","filled":false,"size":50,"strokeWidth":1.3,"opacity":1},
"encoding":{"x":{"field":"x","type":"quantitative"},"y":{"field":"y","type":"quantitative"},"color":{"field":"sbr","type":"nominal","legend":null}}},
{"data":{"values":[{}]},"mark":{"type":"rule","color":"#000","strokeWidth":3,"strokeDash":[3,9.4]},"encoding":{"x":{"datum":1},"y":{"datum":0},"y2":{"datum":30}}},
{"data":{"values":[{}]},"mark":{"type":"text","text":"t","font":"Liberation Serif","fontStyle":"italic","fontSize":22,"align":"left","baseline":"middle"},"encoding":{"x":{"datum":0.01423},"y":{"datum":32.2}}},
{"data":{"values":[{}]},"mark":{"type":"text","text":"d","font":"Liberation Serif","fontSize":15,"align":"left","baseline":"middle"},"encoding":{"x":{"datum":0.01585},"y":{"datum":31.8}}},
{"data":{"values":[{}]},"mark":{"type":"text","text":"= 50 ns","fontSize":20,"align":"left","baseline":"middle"},"encoding":{"x":{"datum":0.01935},"y":{"datum":32.2}}},
{"data":{"values":[{}]},"mark":{"type":"text","text":"Φ","font":"Liberation Serif","fontSize":21,"align":"left","baseline":"middle"},"encoding":{"x":{"datum":0.0885},"y":{"datum":32.2}}},
{"data":{"values":[{}]},"mark":{"type":"text","text":"bkg","font":"Liberation Serif","fontSize":15,"align":"left","baseline":"middle"},"encoding":{"x":{"datum":0.1148},"y":{"datum":31.7}}},
{"data":{"values":[{}]},"mark":{"type":"text","text":"= 0.1","fontSize":20,"align":"left","baseline":"middle"},"encoding":{"x":{"datum":0.1738},"y":{"datum":32.2}}},
{"data":{"values":[{}]},"mark":{"type":"rule","color":"#000","strokeWidth":3,"strokeDash":[3,4]},"encoding":{"x":{"datum":0.01184},"y":{"datum":35.8},"y2":{"datum":40.3}}},
{"data":{"values":[{}]},"mark":{"type":"rule","color":"#000","strokeWidth":3},"encoding":{"x":{"datum":0.094},"y":{"datum":35.6},"y2":{"datum":40.3}}},
{"data":{"values":[{}]},"mark":{"type":"point","shape":"M0,-1L0,1M-0.87,-0.5L0.87,0.5M-0.87,0.5L0.87,-0.5","filled":false,"size":70,"strokeWidth":2.5,"color":"#000","opacity":1},"encoding":{"x":{"datum":0.01184},"y":{"datum":37.9}}},
{"data":{"values":[{}]},"mark":{"type":"point","shape":"M0,-1L0,1M-0.87,-0.5L0.87,0.5M-0.87,0.5L0.87,-0.5","filled":false,"size":50,"strokeWidth":2,"color":"#000","opacity":1},"encoding":{"x":{"datum":0.094},"y":{"datum":37.9}}},
{"data":{"values":[{}]},"mark":{"type":"text","text":"ϒ","font":"DejaVu Serif","fontSize":18,"align":"left","baseline":"middle"},"encoding":{"x":{"datum":0.02123},"y":{"datum":39.6}}},
{"data":{"values":[{}]},"mark":{"type":"text","text":"opt","font":"Liberation Serif","fontSize":14,"align":"left","baseline":"middle"},"encoding":{"x":{"datum":0.0263},"y":{"datum":40.0}}},
{"data":{"values":[{}]},"mark":{"type":"text","text":"(no shifting)","fontSize":19,"align":"center","baseline":"middle"},"encoding":{"x":{"datum":0.0293},"y":{"datum":37.1}}},
{"data":{"values":[{}]},"mark":{"type":"text","text":"ϒ","font":"DejaVu Serif","fontSize":18,"align":"left","baseline":"middle"},"encoding":{"x":{"datum":0.2884},"y":{"datum":39.6}}},
{"data":{"values":[{}]},"mark":{"type":"text","text":"opt","font":"Liberation Serif","fontSize":14,"align":"left","baseline":"middle"},"encoding":{"x":{"datum":0.3467},"y":{"datum":40.0}}},
{"data":{"values":[{}]},"mark":{"type":"text","text":"(photon-driven)","fontSize":19,"align":"center","baseline":"middle"},"encoding":{"x":{"datum":0.321},"y":{"datum":37.1}}}
]}
]}
